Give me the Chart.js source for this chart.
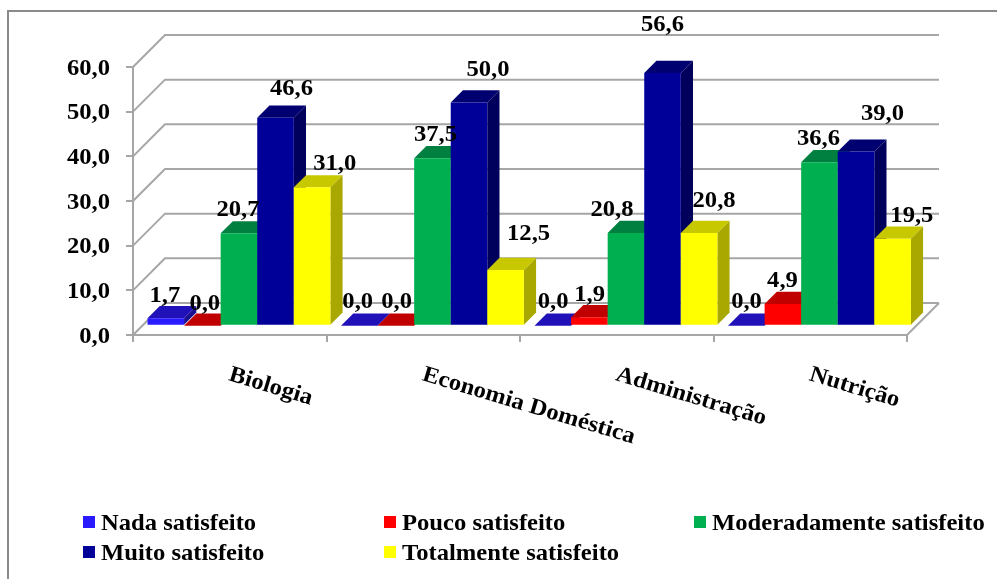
<!DOCTYPE html>
<html><head><meta charset="utf-8">
<style>html,body{margin:0;padding:0;background:#fff}canvas{display:block}</style>
<script src="https://cdn.jsdelivr.net/npm/chart.js@4"></script>
</head><body><canvas id="c" width="997" height="579"></canvas>
<script>
const categories = ["Biologia","Economia Doméstica","Administração","Nutrição"];
const nadaSatisfeito = [1.7,0,0,0];
const poucoSatisfeito = [0,0,1.9,4.9];
const moderadamenteSatisfeito = [20.7,37.5,20.8,36.6];
const muitoSatisfeito = [46.6,50,56.6,39];
const totalmenteSatisfeito = [31,12.5,20.8,19.5];
const seriesNames = ["Nada satisfeito","Pouco satisfeito","Moderadamente satisfeito","Muito satisfeito","Totalmente satisfeito"];
const yTicks = [0,10,20,30,40,50,60];

const seriesValues = [nadaSatisfeito,poucoSatisfeito,moderadamenteSatisfeito,muitoSatisfeito,totalmenteSatisfeito];
const frontColors = ["#2A1AFF","#FF0000","#00B050","#000099","#FFFF00"];
const topColors = ["#2012B8","#C00000","#008040","#000070","#C8C800"];
const sideColors = ["#1A0F90","#A00000","#006A35","#00005C","#A8A800"];
const gridColor = "#A6A6A6";
const SHIFT = 9.2, DEPTH = 12.2, WALL = 32, STRETCH = 1.07, FONT = 23;
const serif = "'Liberation Serif'";
// hand-placed label nudges relative to each bar's front top: [dx,dy] by series, then category
const labelNudge = [
 [[-1,-16],[-1.6,-17.7],[0.3,-17.7],[0.2,-17.7]],
 [[2.4,-15.7],[0.8,-17.7],[0.2,-16.2],[-0.4,-16.8]],
 [[-1,-17],[3,-17.2],[-14,-16.8],[-1,-17.2]],
 [[16,-22.5],[19,-26.4],[0,-42],[26.4,-31.5]],
 [[22.6,-17.2],[23,-30],[15,-25.8],[19.3,-16.6]]
];
const legendSlots = [[83,530],[384,530],[694,530],[83,560],[384,560]];
const fmt = v => v.toFixed(1).replace(".",",");

function stretchedText(ctx,text,x,y,align){
  ctx.save();
  ctx.font = "bold "+FONT+"px "+serif;
  ctx.fillStyle = "#000";
  ctx.textBaseline = "alphabetic";
  ctx.textAlign = align||"left";
  ctx.translate(x,y);
  ctx.scale(STRETCH,1);
  ctx.fillText(text,0,0);
  ctx.restore();
}
function poly(ctx,pts,color){
  ctx.beginPath();
  pts.forEach((p,i)=> i?ctx.lineTo(p[0],p[1]):ctx.moveTo(p[0],p[1]));
  ctx.closePath();
  ctx.fillStyle=color;
  ctx.fill();
}
const scene = {
  id:"scene",
  beforeDatasetsDraw(chart){
    const ctx=chart.ctx, y=chart.scales.y, a=chart.chartArea;
    ctx.save();
    // frame
    ctx.strokeStyle="#8A8A8A"; ctx.lineWidth=2;
    ctx.beginPath(); ctx.moveTo(8,579); ctx.lineTo(8,11); ctx.lineTo(997,11); ctx.stroke();
    // walls
    ctx.strokeStyle=gridColor; ctx.lineWidth=2;
    yTicks.forEach(t=>{
      const py=y.getPixelForValue(t);
      ctx.beginPath();
      ctx.moveTo(a.left,py); ctx.lineTo(a.left+WALL,py-WALL); ctx.lineTo(a.right+WALL,py-WALL);
      ctx.stroke();
    });
    const by=y.getPixelForValue(0);
    ctx.beginPath(); ctx.moveTo(a.right,by); ctx.lineTo(a.right+WALL,by-WALL); ctx.stroke();
    // bars
    ctx.translate(SHIFT,-SHIFT);
    categories.forEach((_,k)=>{
      seriesValues.forEach((_,i)=>{
        const el=chart.getDatasetMeta(i).data[k];
        const l=el.x-el.width/2, r=el.x+el.width/2, t=el.y, b=el.base;
        if(b-t>0.5) poly(ctx,[[r,t],[r+DEPTH,t-DEPTH],[r+DEPTH,b-DEPTH],[r,b]],sideColors[i]);
        poly(ctx,[[l,t],[l+DEPTH,t-DEPTH],[r+DEPTH,t-DEPTH],[r,t]],topColors[i]);
        el.draw(ctx);
      });
    });
    ctx.restore();
    return false;
  },
  afterDraw(chart){
    const ctx=chart.ctx, y=chart.scales.y, x=chart.scales.x;
    // value labels
    seriesValues.forEach((vals,i)=>{
      const meta=chart.getDatasetMeta(i);
      vals.forEach((v,k)=>{
        const el=meta.data[k], n=labelNudge[i][k];
        stretchedText(ctx,fmt(v),el.x+SHIFT+n[0],el.y-SHIFT+n[1],"center");
      });
    });
    // value axis labels
    yTicks.forEach(t=> stretchedText(ctx,fmt(t),110,y.getPixelForValue(t)+7.5,"right"));
    // category labels
    categories.forEach((c,k)=>{
      ctx.save();
      ctx.translate(x.getPixelForValue(k)-2,380);
      ctx.rotate(16.7*Math.PI/180);
      stretchedText(ctx,c,0,0,"left");
      ctx.restore();
    });
    // legend
    seriesNames.forEach((n,i)=>{
      const [lx,ly]=legendSlots[i];
      ctx.fillStyle=frontColors[i];
      ctx.fillRect(lx,ly-14,12,12);
      stretchedText(ctx,n,lx+18,ly,"left");
    });
  }
};
new Chart(document.getElementById("c"),{
  type:"bar",
  data:{labels:categories,datasets:seriesNames.map((n,i)=>({label:n,data:seriesValues[i],backgroundColor:frontColors[i],borderWidth:0,categoryPercentage:0.945,barPercentage:1}))},
  options:{
    responsive:false,animation:false,
    layout:{padding:{left:0,top:67,right:90,bottom:0}},
    plugins:{legend:{display:false},tooltip:{enabled:false},title:{display:false}},
    scales:{
      x:{position:"bottom",
         grid:{offset:true,drawOnChartArea:false,color:gridColor,lineWidth:2,tickLength:7,drawTicks:true},
         border:{color:gridColor,width:2},
         ticks:{display:false},
         afterFit(s){s.height=244;}},
      y:{min:0,max:60,
         grid:{drawOnChartArea:false,color:gridColor,lineWidth:2,tickLength:7,drawTicks:true},
         border:{color:gridColor,width:2},
         ticks:{display:false,stepSize:10},
         afterFit(s){s.width=133;}}
    }
  },
  plugins:[scene]
});
</script></body></html>
